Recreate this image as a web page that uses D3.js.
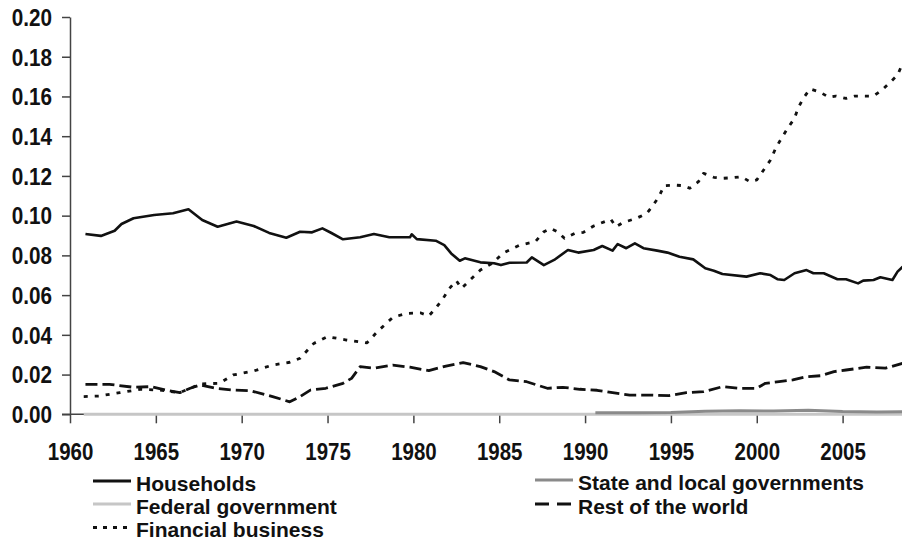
<!DOCTYPE html>
<html>
<head>
  <meta charset="utf-8">
  <title>Sector shares</title>
  <script src="https://d3js.org/d3.v7.min.js"></script>
  <style>
    body { margin: 0; background: #fff; }
    text { font-family: "Liberation Sans", Arial, sans-serif; font-weight: bold; fill: #111; }
    .axis path, .axis line { stroke: #444; stroke-width: 1.5px; }
  </style>
</head>
<body>
  <div id="chart"></div>
  <script>
    // series: [year, share]
    const households = [
      [1960.9,0.0908],[1961.8,0.0898],[1962.6,0.0924],[1963.0,0.0958],[1963.7,0.0987],[1964.9,0.1003],
      [1966.0,0.1012],[1966.9,0.1032],[1967.7,0.0978],[1968.6,0.0944],[1969.7,0.097],[1970.7,0.0948],
      [1971.6,0.0913],[1972.6,0.0889],[1973.4,0.0919],[1974.1,0.0916],[1974.7,0.0936],[1975.2,0.0914],
      [1975.9,0.0881],[1976.9,0.0891],[1977.7,0.0908],[1978.6,0.0891],[1979.8,0.0891],[1979.9,0.0906],
      [1980.2,0.0882],[1981.3,0.0874],[1981.8,0.0852],[1982.2,0.081],[1982.7,0.0773],[1983.0,0.0785],
      [1983.9,0.0765],[1984.7,0.076],[1985.1,0.0751],[1985.6,0.0763],[1986.6,0.0764],[1986.9,0.079],
      [1987.6,0.0751],[1988.2,0.0777],[1989.0,0.0827],[1989.6,0.0814],[1990.5,0.0827],[1991.0,0.0847],
      [1991.6,0.0824],[1991.9,0.0857],[1992.4,0.0836],[1992.9,0.0861],[1993.4,0.0836],[1994.2,0.0824],
      [1994.8,0.0814],[1995.5,0.0793],[1996.3,0.078],[1997.0,0.0735],[1997.5,0.0723],[1998.0,0.0706],
      [1999.4,0.0693],[2000.2,0.071],[2000.8,0.0701],[2001.2,0.068],[2001.6,0.0676],[2002.2,0.071],
      [2002.9,0.0726],[2003.3,0.071],[2003.9,0.071],[2004.7,0.068],[2005.2,0.068],[2005.9,0.0659],
      [2006.2,0.0673],[2006.8,0.0676],[2007.2,0.069],[2007.9,0.0676],[2008.2,0.0718],[2008.5,0.0743]
    ];
    const stateLocal = [
      [1990.6,0.0008],[1993,0.0008],[1995,0.0009],[1997,0.0015],[1999,0.0018],[2001,0.0016],
      [2003,0.002],[2005,0.0014],[2007,0.0012],[2008.5,0.0013]
    ];
    const federal = [[1960.8,0],[2008.5,0]];
    const restOfWorld = [
      [1960.9,0.0151],[1962.3,0.0151],[1963.7,0.0136],[1964.7,0.0139],[1965.6,0.0122],[1966.4,0.0109],
      [1967.0,0.0131],[1967.6,0.0148],[1968.5,0.0131],[1969.5,0.0122],[1970.5,0.0119],[1971.8,0.0089],
      [1972.8,0.0063],[1973.4,0.0089],[1974.0,0.0122],[1974.9,0.0131],[1975.9,0.0156],[1976.4,0.0181],
      [1976.9,0.024],[1977.7,0.0232],[1978.8,0.0248],[1979.8,0.0237],[1980.9,0.022],[1981.9,0.0243],
      [1982.9,0.026],[1983.9,0.024],[1984.7,0.0215],[1985.6,0.0173],[1986.6,0.0164],[1987.8,0.0131],
      [1988.7,0.0136],[1989.7,0.0126],[1990.7,0.0121],[1991.6,0.0109],[1992.6,0.0097],[1993.7,0.0097],
      [1994.9,0.0094],[1995.9,0.0109],[1996.9,0.0114],[1998.0,0.0139],[1999.0,0.0131],[2000.0,0.0131],
      [2000.5,0.0156],[2001.3,0.0164],[2002.1,0.0173],[2002.9,0.0189],[2003.7,0.0194],[2004.5,0.0215],
      [2005.2,0.0223],[2006.4,0.0237],[2007.5,0.0232],[2008.5,0.0257]
    ];
    const financial = [
      [1960.8,0.0089],[1961.7,0.0092],[1962.9,0.0109],[1964.1,0.0126],[1965.2,0.0122],[1966.4,0.0109],
      [1967.6,0.0153],[1968.7,0.0156],[1969.5,0.0198],[1970.7,0.0218],[1971.8,0.0248],[1972.8,0.0262],
      [1973.4,0.0282],[1974.2,0.0357],[1975.0,0.0391],[1976.1,0.0374],[1977.3,0.036],[1977.9,0.0416],
      [1978.8,0.0488],[1979.6,0.0508],[1980.4,0.0511],[1980.9,0.0495],[1981.3,0.0534],[1981.7,0.0579],
      [1982.1,0.0634],[1982.5,0.0673],[1982.8,0.0634],[1983.3,0.0676],[1983.9,0.0726],[1984.6,0.076],
      [1985.2,0.081],[1986.2,0.0852],[1987.1,0.0869],[1987.6,0.0919],[1988.0,0.0936],[1988.4,0.0919],
      [1988.8,0.0886],[1989.4,0.0911],[1989.9,0.0916],[1990.5,0.0948],[1991.5,0.0982],[1991.8,0.0944],
      [1992.2,0.0965],[1993.0,0.0987],[1993.6,0.1012],[1993.9,0.1045],[1994.3,0.1095],[1994.6,0.1151],
      [1995.2,0.1154],[1995.7,0.1151],[1996.1,0.1138],[1996.6,0.1171],[1996.9,0.1213],[1997.5,0.1193],
      [1998.0,0.1188],[1998.6,0.1191],[1999.1,0.1196],[1999.6,0.1171],[2000.0,0.118],[2000.4,0.123],
      [2000.8,0.128],[2001.1,0.1339],[2001.4,0.1384],[2001.8,0.144],[2002.2,0.149],[2002.4,0.154],
      [2002.7,0.159],[2003.1,0.1638],[2003.7,0.1621],[2004.2,0.1596],[2004.6,0.1602],[2005.2,0.159],
      [2005.7,0.1602],[2006.2,0.1602],[2006.8,0.1602],[2007.3,0.1633],[2007.8,0.1674],[2008.2,0.1708],
      [2008.5,0.1767]
    ];

    const yearTicks = [1960, 1965, 1970, 1975, 1980, 1985, 1990, 1995, 2000, 2005];
    const valueTicks = [0, 0.02, 0.04, 0.06, 0.08, 0.10, 0.12, 0.14, 0.16, 0.18, 0.20];

    const width = 902, height = 545;
    const svg = d3.select("#chart").append("svg")
      .attr("width", width).attr("height", height);

    const x = d3.scaleLinear().domain([1960, 2008.5]).range([70, 902.7]);
    const y = d3.scaleLinear().domain([0, 0.2]).range([414.3, 17]);

    // y axis
    const yAxis = svg.append("g").attr("class", "axis")
      .attr("transform", "translate(70,0)")
      .call(d3.axisLeft(y).tickValues(valueTicks).tickSize(8).tickSizeOuter(0).tickPadding(10)
        .tickFormat(d3.format(".2f")));
    yAxis.selectAll("text")
      .attr("font-size", 23)
      .attr("dy", "0.36em")
      .attr("transform", function() { return "scale(0.9,1)"; })
      .attr("x", -18 / 0.9);

    // x axis
    const xAxis = svg.append("g").attr("class", "axis")
      .attr("transform", "translate(0," + y(0) + ")")
      .call(d3.axisBottom(x).tickValues(yearTicks).tickSize(9).tickSizeOuter(0).tickPadding(21)
        .tickFormat(d3.format("d")));
    xAxis.select(".domain").attr("d", "M62,0H902");
    xAxis.selectAll("text").attr("font-size", 23).attr("dy", 0)
      .attr("transform", "scale(0.89,1)");
    xAxis.selectAll(".tick text").attr("y", 46);

    const line = d3.line().x(d => x(d[0])).y(d => y(d[1]));

    const series = [
      { name: "Households", data: households, color: "#111", width: 2.6, dash: null },
      { name: "State and local governments", data: stateLocal, color: "#8a8a8a", width: 3, dash: null },
      { name: "Federal government", data: federal, color: "#c6c6c6", width: 3, dash: null },
      { name: "Rest of the world", data: restOfWorld, color: "#111", width: 2.8, dash: "12,5" },
      { name: "Financial business", data: financial, color: "#111", width: 2.8, dash: "4,7" }
    ];

    const drawOrder = [2, 1, 3, 4, 0];
    drawOrder.forEach(i => {
      const s = series[i];
      svg.append("path")
        .datum(s.data)
        .attr("fill", "none")
        .attr("stroke", s.color)
        .attr("stroke-width", s.width)
        .attr("stroke-dasharray", s.dash)
        .attr("stroke-linejoin", "round")
        .attr("d", line);
    });

    // legend
    const legendPos = [
      { s: 0, x: 93, y: 481 },
      { s: 1, x: 535, y: 480 },
      { s: 2, x: 93, y: 504 },
      { s: 3, x: 535, y: 504 },
      { s: 4, x: 93, y: 527.5 }
    ];
    const legendDash = [null, null, null, "14,8", "4,6"];
    const legend = svg.append("g");
    legendPos.forEach(p => {
      const s = series[p.s];
      legend.append("line")
        .attr("x1", p.x).attr("x2", p.x + 38)
        .attr("y1", p.y).attr("y2", p.y)
        .attr("stroke", s.color)
        .attr("stroke-width", 3)
        .attr("stroke-dasharray", legendDash[p.s]);
      legend.append("text")
        .attr("x", p.x + 43)
        .attr("y", p.y + 9.5)
        .attr("font-size", 21)
        .text(s.name);
    });
  </script>
</body>
</html>
